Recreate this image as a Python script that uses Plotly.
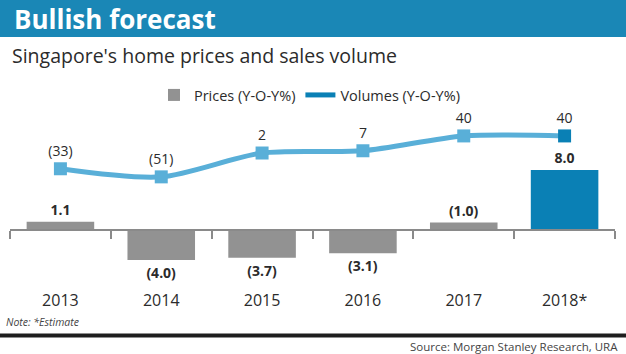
import plotly.graph_objects as go

years = ["2013", "2014", "2015", "2016", "2017", "2018*"]
price_values = [1.1, -4.0, -3.7, -3.1, 1.0, 8.0]
price_labels = ["1.1", "(4.0)", "(3.7)", "(3.1)", "(1.0)", "8.0"]
volume_values = [-33, -51, 2, 7, 40, 40]
volume_labels = ["(33)", "(51)", "2", "7", "40", "40"]

GRAY = "#929292"
DARK_BLUE = "#0a80b5"
LIGHT_BLUE = "#59afd8"
BANNER = "#1a87b6"
TEXT = "#2b2b2b"

W, H = 626, 354
T, B, L, R = 110, 84, 10, 11
PH = H - T - B


def py(px):
    return (H - B - px) / PH


bar_colors = [GRAY] * (len(years) - 1) + [DARK_BLUE]
marker_colors = [LIGHT_BLUE] * (len(years) - 1) + [DARK_BLUE]

fig = go.Figure()
fig.add_trace(go.Bar(
    x=years, y=price_values, name="Prices (Y-O-Y%)",
    marker=dict(color=bar_colors, line=dict(width=0)),
    width=0.67,
    text=price_labels, textposition="outside", cliponaxis=False,
    textfont=dict(family="Open Sans", size=14, color=TEXT, weight="bold"),
    showlegend=True, legendrank=1,
))
fig.add_trace(go.Scatter(
    x=years, y=volume_values, yaxis="y2", mode="lines+markers+text",
    line=dict(color=LIGHT_BLUE, width=5, shape="spline", smoothing=0.8),
    marker=dict(symbol="square", size=13, color=marker_colors),
    text=volume_labels, textposition="top center",
    textfont=dict(family="Open Sans", size=14, color=TEXT),
    cliponaxis=False, showlegend=False,
))
fig.add_trace(go.Scatter(
    x=[None], y=[None], yaxis="y2", mode="lines", name="Volumes (Y-O-Y%)",
    line=dict(color=DARK_BLUE, width=5), legendrank=2,
))

fig.update_layout(
    width=W, height=H,
    margin=dict(l=L, r=R, t=T, b=B, pad=0),
    paper_bgcolor="white", plot_bgcolor="white",
    bargap=0.33,
    xaxis=dict(
        type="category", anchor="free", position=py(230),
        showline=True, linecolor="#8a8a8a", linewidth=2,
        ticks="outside", tickson="boundaries", ticklen=8, tickwidth=2, tickcolor="#8a8a8a",
        showgrid=False, zeroline=False,
        tickfont=dict(family="Open Sans", size=16, color=TEXT),
        ticklabelstandoff=56,
    ),
    yaxis=dict(range=[-40 / 7.5, 120 / 7.5], visible=False, fixedrange=True),
    yaxis2=dict(range=[-258, 97.6], overlaying="y", visible=False),
    legend=dict(
        orientation="h", x=0.495, xanchor="center", y=py(95), yanchor="middle",
        font=dict(family="Open Sans", size=14.5, color=TEXT),
        itemwidth=30, traceorder="normal",
    ),
    shapes=[
        dict(type="rect", xref="paper", yref="paper", x0=-0.1, x1=1.1,
             y0=py(37), y1=py(-5), fillcolor=BANNER, line=dict(width=0), layer="below"),
        dict(type="line", xref="paper", yref="paper", x0=-0.1, x1=1.1,
             y0=py(335.5), y1=py(335.5), line=dict(color="#1e1e1e", width=4)),
    ],
    annotations=[
        dict(text="<b>Bullish forecast</b>", xref="paper", yref="paper",
             x=(12 - L) / (W - L - R), y=py(19), xanchor="left", yanchor="middle",
             showarrow=False, font=dict(family="Open Sans", size=26, color="white")),
        dict(text="Singapore's home prices and sales volume", xref="paper", yref="paper",
             x=(10 - L) / (W - L - R), y=py(55), xanchor="left", yanchor="middle",
             showarrow=False, font=dict(family="Open Sans", size=19.5, color=TEXT)),
        dict(text="<i>Note: *Estimate</i>", xref="paper", yref="paper",
             x=(4 - L) / (W - L - R), y=py(322), xanchor="left", yanchor="middle",
             showarrow=False, font=dict(family="Open Sans", size=10.5, color="#444444")),
        dict(text="Source: Morgan Stanley Research, URA", xref="paper", yref="paper",
             x=(620 - L) / (W - L - R), y=py(346), xanchor="right", yanchor="middle",
             showarrow=False, font=dict(family="Open Sans", size=11.5, color="#444444")),
    ],
)

fig.write_html("out.html")
